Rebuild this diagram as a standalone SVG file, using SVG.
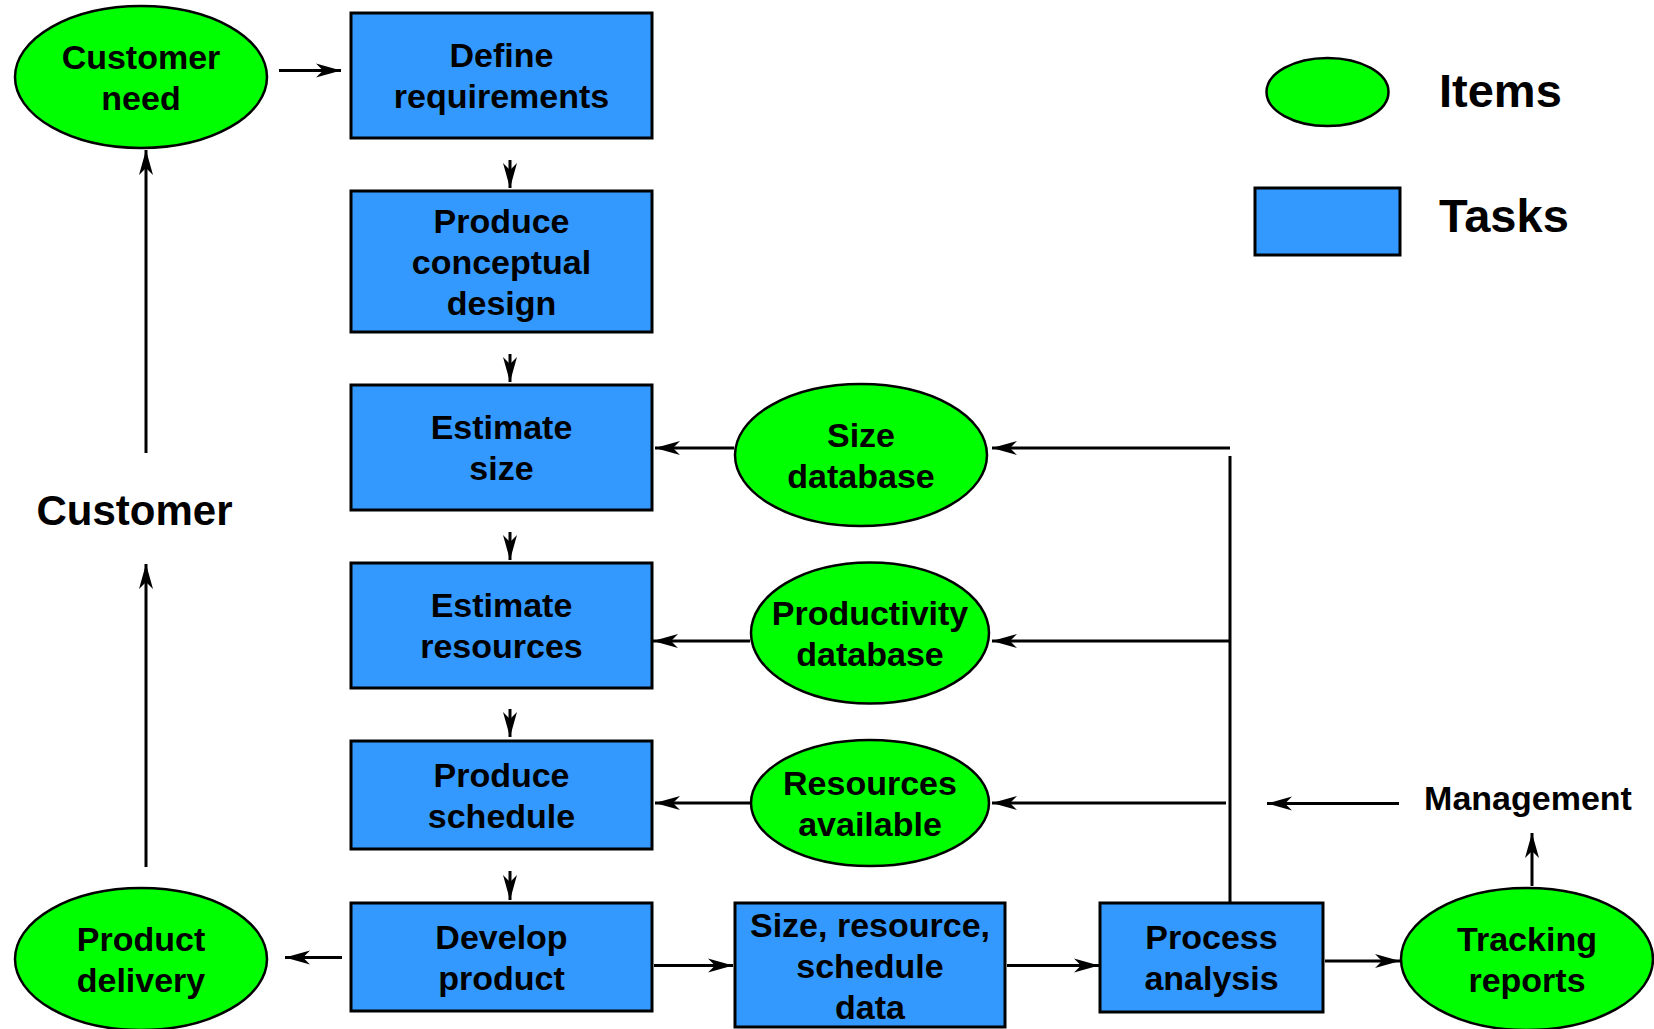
<svg xmlns="http://www.w3.org/2000/svg" width="1654" height="1029" viewBox="0 0 1654 1029">
<style>
.item{fill:#00ff00;stroke:#000;stroke-width:2.5}
.task{fill:#3399ff;stroke:#000;stroke-width:3}
.lbl{font-family:"Liberation Sans",Arial,sans-serif;font-weight:bold;font-size:34px;fill:#000;text-anchor:middle}
.big{font-family:"Liberation Sans",Arial,sans-serif;font-weight:bold;font-size:47px;fill:#000}
.conn line{stroke:#000;stroke-width:3;fill:none}
.arr{marker-end:url(#ah)}
</style>
<defs>
<marker id="ah" markerUnits="userSpaceOnUse" markerWidth="26" markerHeight="16" refX="25" refY="7" orient="auto" overflow="visible">
<path d="M0,0 L25,7 L0,14 L7,7 z" fill="#000"/>
</marker>
</defs>
<rect width="1654" height="1029" fill="#fff"/>

<g id="connectors" class="conn">
<line class="arr" x1="279" y1="70.5" x2="341" y2="70.5"/>
<line class="arr" x1="510" y1="160" x2="510" y2="188"/>
<line class="arr" x1="510" y1="354" x2="510" y2="382"/>
<line class="arr" x1="510" y1="532" x2="510" y2="560"/>
<line class="arr" x1="510" y1="709" x2="510" y2="737"/>
<line class="arr" x1="510" y1="871" x2="510" y2="900"/>
<line class="arr" x1="734" y1="448" x2="655" y2="448"/>
<line class="arr" x1="1230" y1="448" x2="992" y2="448"/>
<line x1="1230" y1="456" x2="1230" y2="903"/>
<line class="arr" x1="750" y1="641" x2="653" y2="641"/>
<line class="arr" x1="1230" y1="641" x2="992" y2="641"/>
<line class="arr" x1="750" y1="803" x2="655" y2="803"/>
<line class="arr" x1="1226" y1="803" x2="992" y2="803"/>
<line class="arr" x1="1399" y1="803.5" x2="1267" y2="803.5"/>
<line class="arr" x1="1532" y1="886" x2="1532" y2="833"/>
<line class="arr" x1="1325" y1="961" x2="1400" y2="961"/>
<line class="arr" x1="1007" y1="965.5" x2="1099" y2="965.5"/>
<line class="arr" x1="654" y1="965.5" x2="733" y2="965.5"/>
<line class="arr" x1="342" y1="957.5" x2="285" y2="957.5"/>
<line class="arr" x1="146" y1="867" x2="146" y2="564"/>
<line class="arr" x1="146" y1="453" x2="146" y2="150"/>
</g>

<g id="customer-need">
<ellipse class="item" cx="141" cy="77" rx="126" ry="71"/>
<text class="lbl" x="141" y="69">Customer</text>
<text class="lbl" x="141" y="110">need</text>
</g>
<g id="define-requirements">
<rect class="task" x="351" y="13" width="301" height="125"/>
<text class="lbl" x="501.5" y="67">Define</text>
<text class="lbl" x="501.5" y="108">requirements</text>
</g>
<g id="produce-conceptual-design">
<rect class="task" x="351" y="191" width="301" height="141"/>
<text class="lbl" x="501.5" y="232.5">Produce</text>
<text class="lbl" x="501.5" y="273.5">conceptual</text>
<text class="lbl" x="501.5" y="314.5">design</text>
</g>
<g id="estimate-size">
<rect class="task" x="351" y="385" width="301" height="125"/>
<text class="lbl" x="501.5" y="439">Estimate</text>
<text class="lbl" x="501.5" y="480">size</text>
</g>
<g id="estimate-resources">
<rect class="task" x="351" y="563" width="301" height="125"/>
<text class="lbl" x="501.5" y="617">Estimate</text>
<text class="lbl" x="501.5" y="658">resources</text>
</g>
<g id="produce-schedule">
<rect class="task" x="351" y="741" width="301" height="108"/>
<text class="lbl" x="501.5" y="786.5">Produce</text>
<text class="lbl" x="501.5" y="827.5">schedule</text>
</g>
<g id="develop-product">
<rect class="task" x="351" y="903" width="301" height="108"/>
<text class="lbl" x="501.5" y="948.5">Develop</text>
<text class="lbl" x="501.5" y="989.5">product</text>
</g>
<g id="size-resource-schedule-data">
<rect class="task" x="735" y="903" width="270" height="124"/>
<text class="lbl" x="870" y="937">Size, resource,</text>
<text class="lbl" x="870" y="978">schedule</text>
<text class="lbl" x="870" y="1019">data</text>
</g>
<g id="process-analysis">
<rect class="task" x="1100" y="903" width="223" height="109"/>
<text class="lbl" x="1211.5" y="949">Process</text>
<text class="lbl" x="1211.5" y="990">analysis</text>
</g>
<g id="tracking-reports">
<ellipse class="item" cx="1527" cy="959" rx="126" ry="71"/>
<text class="lbl" x="1527" y="951">Tracking</text>
<text class="lbl" x="1527" y="992">reports</text>
</g>
<g id="product-delivery">
<ellipse class="item" cx="141" cy="959" rx="126" ry="71"/>
<text class="lbl" x="141" y="951">Product</text>
<text class="lbl" x="141" y="992">delivery</text>
</g>
<g id="size-database">
<ellipse class="item" cx="861" cy="455" rx="126" ry="71"/>
<text class="lbl" x="861" y="447">Size</text>
<text class="lbl" x="861" y="488">database</text>
</g>
<g id="productivity-database">
<ellipse class="item" cx="870" cy="633" rx="119" ry="70.5"/>
<text class="lbl" x="870" y="625">Productivity</text>
<text class="lbl" x="870" y="666">database</text>
</g>
<g id="resources-available">
<ellipse class="item" cx="870" cy="803" rx="119" ry="63"/>
<text class="lbl" x="870" y="795">Resources</text>
<text class="lbl" x="870" y="836">available</text>
</g>
<g id="customer">
<text class="lbl" x="134.5" y="525" style="font-size:42px">Customer</text>
</g>
<g id="management">
<text class="lbl" x="1528" y="810">Management</text>
</g>
<g id="legend">
<ellipse class="item" cx="1327.5" cy="92" rx="61" ry="34"/>
<text class="big" x="1439" y="107">Items</text>
<rect class="task" x="1255" y="188" width="145" height="67"/>
<text class="big" x="1439" y="232">Tasks</text>
</g>
</svg>
